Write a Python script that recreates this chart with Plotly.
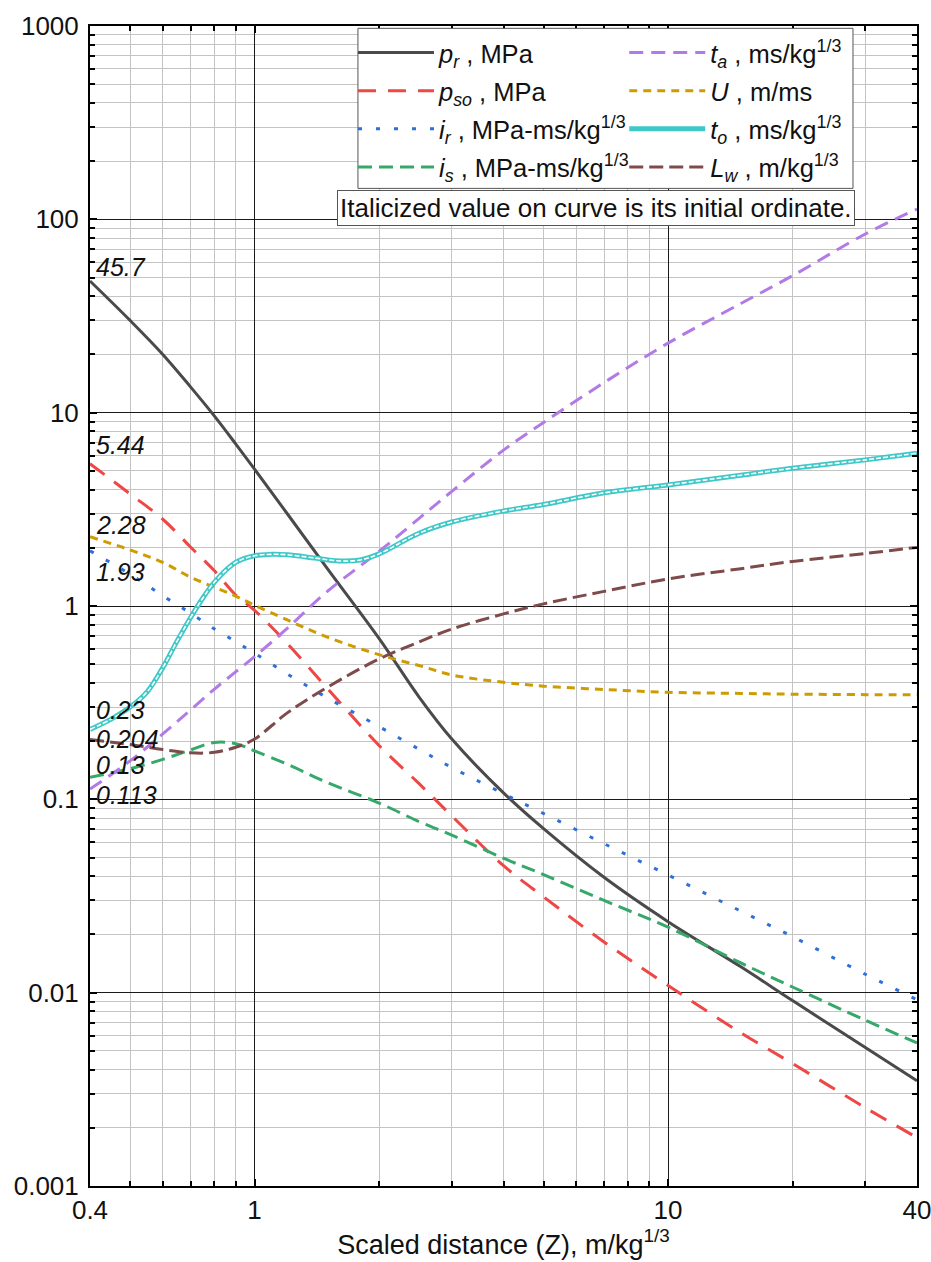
import math
import plotly.graph_objects as go

# ---------------- data ----------------
Z = [0.4, 0.5, 0.6, 0.7, 0.8, 0.9, 1, 1.2, 1.5, 2, 2.5, 3, 4, 5, 7, 10, 15, 20, 30, 40]
P_R = [48.0, 30.0, 20.0, 13.6, 9.6, 6.9, 5.1, 3.0, 1.56, 0.68, 0.338, 0.205, 0.108, 0.0705,
       0.0395, 0.0233, 0.0136, 0.0091, 0.0052, 0.0035]
P_SO = [5.44, 3.8, 2.81, 2.02, 1.52, 1.14, 0.95, 0.64, 0.375, 0.19, 0.1205, 0.082, 0.0454,
        0.0313, 0.0183, 0.0109, 0.0062, 0.0043, 0.00254, 0.00178]
I_R = [1.93, 1.46, 1.13, 0.918, 0.76, 0.655, 0.57, 0.445, 0.335, 0.238, 0.1815, 0.146, 0.107,
       0.0845, 0.059, 0.0406, 0.0264, 0.0195, 0.01245, 0.0092]
I_S = [0.13, 0.144, 0.161, 0.18, 0.197, 0.194, 0.178, 0.152, 0.122, 0.0957, 0.0767, 0.0653,
       0.0496, 0.0408, 0.030, 0.0218, 0.01425, 0.0107, 0.0072, 0.0055]
T_A = [0.113, 0.158, 0.218, 0.29, 0.372, 0.456, 0.547, 0.767, 1.19, 1.915, 2.84, 3.92, 6.4,
       8.9, 14.3, 22.9, 36.7, 51.1, 84, 113]
U = [2.28, 1.95, 1.68, 1.41, 1.25, 1.125, 1.01, 0.847, 0.69, 0.56, 0.492, 0.44, 0.403, 0.385,
     0.37, 0.358, 0.353, 0.350, 0.348, 0.347]
L_W = [0.204, 0.192, 0.181, 0.174, 0.175, 0.186, 0.205, 0.28, 0.38, 0.532, 0.652, 0.76, 0.91,
       1.026, 1.19, 1.38, 1.56, 1.70, 1.87, 2.01]
Z_TO = [0.4, 0.45, 0.5, 0.55, 0.6, 0.65, 0.7, 0.75, 0.8, 0.9, 1.0, 1.1, 1.2, 1.4, 1.6, 1.8, 2.0,
        2.5, 3, 4, 5, 7, 10, 15, 20, 30, 40]
T_O = [0.23, 0.26, 0.30, 0.36, 0.48, 0.66, 0.87, 1.1, 1.33, 1.68, 1.82, 1.85, 1.84, 1.77, 1.71,
       1.73, 1.86, 2.38, 2.72, 3.1, 3.35, 3.85, 4.23, 4.75, 5.16, 5.7, 6.17]

X_TICKS = [0.4, 1, 10, 40]
X_TICKTEXT = ["0.4", "1", "10", "40"]
Y_TICKS = [0.001, 0.01, 0.1, 1, 10, 100, 1000]
Y_TICKTEXT = ["0.001", "0.01", "0.1", "1", "10", "100", "1000"]

INITIAL_LABELS = ["45.7", "5.44", "2.28", "1.93", "0.23", "0.204", "0.13", "0.113"]
INITIAL_VALUES = [45.7, 5.44, 2.28, 1.93, 0.23, 0.204, 0.13, 0.113]
LABEL_SHIFTS = [18, 19, 12, -21, 19, 0, 12, -6]

FONT = "Liberation Sans, Arial, sans-serif"

fig = go.Figure()

def add(x, y, name, color, dash, legend, group, width=3):
    fig.add_trace(go.Scatter(
        x=x, y=y, name=name, mode="lines", legend=legend, legendgroup=group,
        line=dict(color=color, width=width, dash=dash, shape="spline", smoothing=1.0),
    ))

add(Z, P_R, "<i>p<sub>r</sub></i> , MPa", "#4a4a4a", "solid", "legend", "g1")
add(Z, P_SO, "<i>p<sub>so</sub></i> , MPa", "#ef4646", "18px,12px", "legend", "g2")
add(Z, I_R, "<i>i<sub>r</sub></i> , MPa-ms/kg<sup>1/3</sup>", "#2e6fd8", "4px,14px", "legend", "g3")
add(Z, I_S, "<i>i<sub>s</sub></i> , MPa-ms/kg<sup>1/3</sup>", "#36a86a", "14px,7px", "legend", "g4")
add(Z, T_A, "<i>t<sub>a</sub></i> , ms/kg<sup>1/3</sup>", "#b27ae6", "14px,8px", "legend2", "g5")
add(Z, U, "<i>U</i> , m/ms", "#cc9c00", "8px,6px", "legend2", "g6")
add(Z_TO, T_O, "<i>t<sub>o</sub></i> , ms/kg<sup>1/3</sup>", "#3ec8c8", "solid", "legend2", "g7", width=5)
fig.add_trace(go.Scatter(
    x=Z_TO, y=T_O, mode="lines", showlegend=False, hoverinfo="skip", legendgroup="g7",
    legend="legend2",
    line=dict(color="white", width=1.6, dash="5px,2px", shape="spline", smoothing=1.0),
))
add(Z, L_W, "<i>L<sub>w</sub></i> , m/kg<sup>1/3</sup>", "#7e4a4a", "14px,6px", "legend2", "g8")

# italic initial-ordinate labels
for txt, val, sh in zip(INITIAL_LABELS, INITIAL_VALUES, LABEL_SHIFTS):
    fig.add_annotation(
        x=math.log10(Z[0]), y=math.log10(val), xref="x", yref="y",
        text="<i>" + txt + "</i>", showarrow=False, xanchor="left", yanchor="middle",
        xshift=4, yshift=sh, font=dict(family=FONT, size=25, color="#111"),
    )

fig.add_annotation(
    x=0.9245, y=0.843, xref="paper", yref="paper", xanchor="right", yanchor="middle",
    text="Italicized value on curve is its initial ordinate.", showarrow=False,
    font=dict(family=FONT, size=26, color="#111"),
    bgcolor="white", bordercolor="#555", borderwidth=1, borderpad=2,
)

# legend frame
fig.add_shape(type="rect", xref="paper", yref="paper", x0=0.324, x1=0.9226, y0=0.860, y1=0.998,
              fillcolor="white", line=dict(color="#555", width=1), layer="above")

minor_x = [0.5, 0.6, 0.7, 0.8, 0.9, 2, 3, 4, 5, 6, 7, 8, 9, 20, 30]
minor_y = [m * d for d in [0.001, 0.01, 0.1, 1, 10, 100] for m in range(2, 10)]

axis_common = dict(
    type="log", showline=True, linecolor="black", linewidth=2, mirror="ticks",
    ticks="inside", ticklen=7, tickwidth=1.5, tickcolor="black", automargin=False,
    ticklabeloverflow="allow",
    showgrid=True, gridcolor="#1a1a1a", gridwidth=1.3, zeroline=False,
    tickfont=dict(family=FONT, size=26, color="#111"),
)

fig.update_layout(
    width=931, height=1262,
    margin=dict(l=90, r=14, t=26, b=76),
    paper_bgcolor="white", plot_bgcolor="white",
    showlegend=True,
    xaxis=dict(
        **axis_common,
        range=[math.log10(0.4), math.log10(40)],
        tickmode="array", tickvals=X_TICKS, ticktext=X_TICKTEXT,
        minor=dict(tickmode="array", tickvals=minor_x, showgrid=True, gridcolor="#c4c4c4",
                   gridwidth=1.3, ticks="inside", ticklen=5, tickcolor="black"),
        title=dict(text="Scaled distance (Z), m/kg<sup>1/3</sup>", standoff=6,
                   font=dict(family=FONT, size=27, color="#111")),
    ),
    yaxis=dict(
        **axis_common,
        range=[-3, 3], ticklabelstandoff=4,
        tickmode="array", tickvals=Y_TICKS, ticktext=Y_TICKTEXT,
        minor=dict(tickmode="array", tickvals=minor_y, showgrid=True, gridcolor="#c4c4c4",
                   gridwidth=1.3, ticks="inside", ticklen=5, tickcolor="black"),
    ),
    legend=dict(x=0.318, y=0.997, xanchor="left", yanchor="top", bgcolor="rgba(0,0,0,0)",
                font=dict(family=FONT, size=25.5, color="#111"), itemwidth=76,
                borderwidth=0, tracegroupgap=2),
    legend2=dict(x=0.646, y=0.997, xanchor="left", yanchor="top", bgcolor="rgba(0,0,0,0)",
                 font=dict(family=FONT, size=25.5, color="#111"), itemwidth=76,
                 borderwidth=0, tracegroupgap=2),
)

fig.write_html("out.html")
